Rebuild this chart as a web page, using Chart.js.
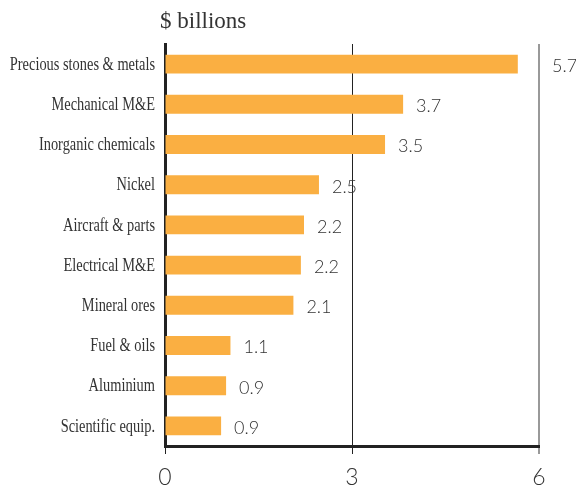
<!DOCTYPE html>
<html>
<head>
<meta charset="utf-8">
<script src="https://cdn.jsdelivr.net/npm/chart.js@4/dist/chart.umd.min.js"></script>
<style>
  html, body { margin: 0; padding: 0; background: #fff; }
  #wrap { width: 576px; height: 487px; }
</style>
</head>
<body>
<div id="wrap"><canvas id="barCanvas" width="576" height="487"></canvas></div>
<script>
// data
var categories = ['Precious stones & metals', 'Mechanical M&E', 'Inorganic chemicals', 'Nickel',
  'Aircraft & parts', 'Electrical M&E', 'Mineral ores', 'Fuel & oils', 'Aluminium', 'Scientific equip.'];
var values = [5.66, 3.82, 3.53, 2.47, 2.23, 2.18, 2.06, 1.05, 0.98, 0.9];
var valueLabels = ['5.7', '3.7', '3.5', '2.5', '2.2', '2.2', '2.1', '1.1', '0.9', '0.9'];
var xTicks = [0, 3, 6];
var unitTitle = '$ billions';

var barColor = '#FAAF42';

// condensed serif category names, value labels, unit title
var labelPlugin = {
  id: 'labelPlugin',
  afterDatasetsDraw: function (chart) {
    var ctx = chart.ctx;
    var xs = chart.scales.x;
    var meta = chart.getDatasetMeta(0);
    ctx.save();

    // category names, squeezed sideways like the original typeface
    ctx.fillStyle = '#333';
    ctx.font = '18px "Liberation Serif"';
    ctx.textBaseline = 'middle';
    ctx.textAlign = 'right';
    meta.data.forEach(function (bar, i) {
      ctx.save();
      ctx.translate(155, bar.y + 1);
      ctx.scale(0.8, 1);
      ctx.fillText(categories[i], 0, 0);
      ctx.restore();
    });

    ctx.font = '300 18px Lato, "Open Sans"';
    ctx.textAlign = 'left';
    meta.data.forEach(function (bar, i) {
      var x = bar.x + 13;
      // keep clear of the right-hand line
      if (x + 28 > xs.getPixelForValue(6)) {
        x = xs.getPixelForValue(6) + 13;
      }
      ctx.fillText(valueLabels[i], x, bar.y + 2);
    });

    ctx.font = '23px "Liberation Serif"';
    ctx.fillText(unitTitle, 160, 22);
    ctx.restore();
  }
};

var chartdata = {
  labels: categories,
  datasets: [
    {
      label: unitTitle,
      backgroundColor: barColor,
      borderWidth: 0,
      data: values,
      barPercentage: 0.47,
      categoryPercentage: 1
    }
  ]
};

var barGraph = new Chart(document.getElementById('barCanvas'), {
  type: 'bar',
  data: chartdata,
  options: {
    indexAxis: 'y',
    responsive: false,
    animation: false,
    layout: { padding: { top: 44, right: 37, left: 0, bottom: 0 } },
    plugins: {
      legend: { display: false },
      tooltip: { enabled: false }
    },
    scales: {
      x: {
        min: 0,
        max: 6,
        afterBuildTicks: function (scale) {
          scale.ticks = xTicks.map(function (v) { return { value: v }; });
        },
        afterFit: function (scale) { scale.height = 41; },
        border: { display: true, color: '#222', width: 3 },
        grid: {
          drawOnChartArea: true,
          drawTicks: true,
          tickLength: 8,
          color: function (c) { return c.index === 2 ? '#999' : '#222'; },
          lineWidth: function (c) { return c.index === 2 ? 2 : 1; }
        },
        ticks: {
          color: '#333',
          padding: 10,
          font: { family: 'Lato', weight: '300', size: 23 }
        }
      },
      y: {
        afterFit: function (scale) { scale.width = 165; },
        border: { display: true, color: '#222', width: 3 },
        grid: { display: false },
        ticks: { display: false }
      }
    }
  },
  plugins: [labelPlugin]
});
</script>
</body>
</html>
